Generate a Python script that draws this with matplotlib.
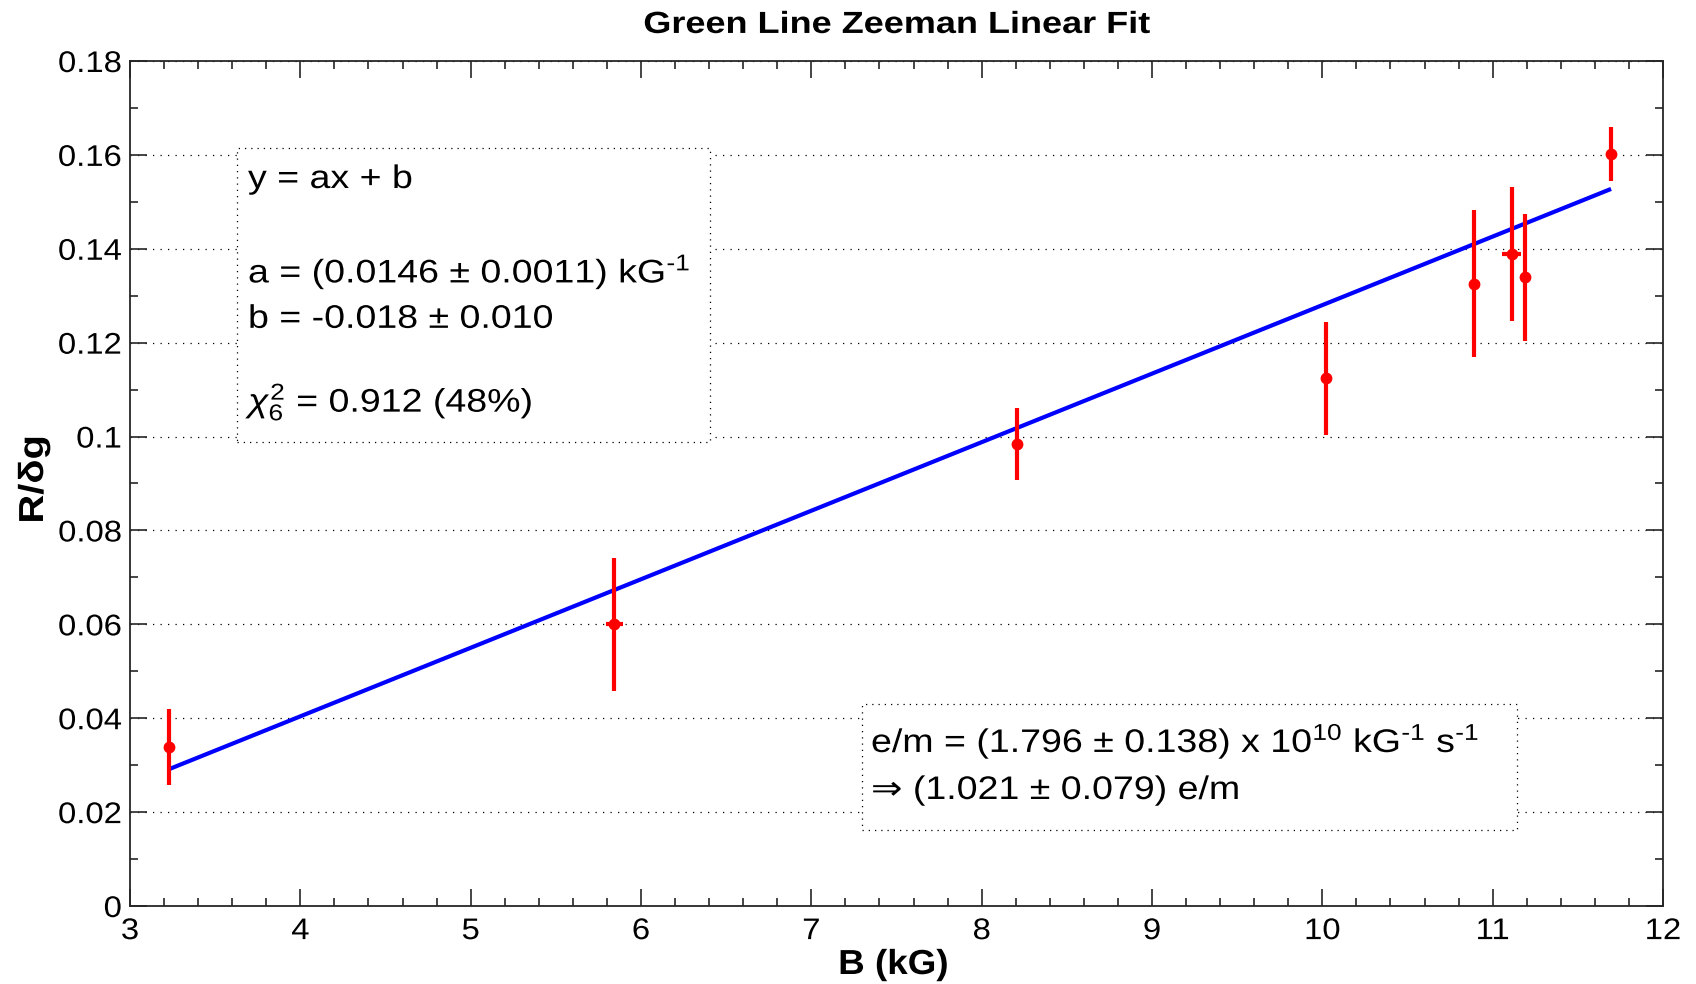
import matplotlib
matplotlib.use("Agg")
import matplotlib.pyplot as plt
from matplotlib.patches import Rectangle
from matplotlib.patheffects import AbstractPathEffect
from matplotlib.ticker import FixedLocator, MultipleLocator
from matplotlib.transforms import Affine2D

# Measured Zeeman splitting data
B_kG = [3.23, 5.844, 8.207, 10.02, 10.893, 11.112, 11.192, 11.695]
B_err = [0.03, 0.05, 0.03, 0.03, 0.03, 0.055, 0.03, 0.03]
R_dg = [0.0339, 0.0600, 0.0984, 0.1124, 0.1326, 0.1389, 0.1339, 0.1602]
R_err = [0.0081, 0.0142, 0.0077, 0.0120, 0.0157, 0.0143, 0.0135, 0.0057]

# Linear fit parameters y = a x + b
fit_a = 0.0146
fit_b = -0.018

x_ticks = [3, 4, 5, 6, 7, 8, 9, 10, 11, 12]
x_ticklabels = ["3", "4", "5", "6", "7", "8", "9", "10", "11", "12"]
y_ticks = [0, 0.02, 0.04, 0.06, 0.08, 0.10, 0.12, 0.14, 0.16, 0.18]
y_ticklabels = ["0", "0.02", "0.04", "0.06", "0.08", "0.1", "0.12", "0.14", "0.16", "0.18"]

fit_lines = [
    "y = ax + b",
    r"a = (0.0146 $\pm$ 0.0011) kG$^{\text{-}1}$",
    r"b = -0.018 $\pm$ 0.010",
    r"$\chi^{2}_{6}$ = 0.912 (48%)",
]
em_lines = [
    r"e/m = (1.796 $\pm$ 0.138) x 10$^{10}$ kG$^{\text{-}1}$ s$^{\text{-}1}$",
    "\u21D2 (1.021 \u00B1 0.079) e/m",
]

plt.rcParams["font.family"] = ["Liberation Sans", "DejaVu Sans"]
plt.rcParams["mathtext.fontset"] = "custom"
plt.rcParams["mathtext.rm"] = "Liberation Sans"
plt.rcParams["mathtext.it"] = "Liberation Sans:italic"
plt.rcParams["mathtext.bf"] = "Liberation Sans:bold"


class Stretch(AbstractPathEffect):
    """Widen glyph outlines horizontally about the left edge, centre or right edge."""

    def __init__(self, sx, anchor="left"):
        super().__init__((0.0, 0.0))
        self.sx = sx
        self.anchor = anchor

    def draw_path(self, renderer, gc, tpath, affine, rgbFace=None):
        if self.anchor == "left":
            cx = 0.0
        else:
            ext = tpath.get_extents()
            cx = ext.x0 + (ext.width / 2 if self.anchor == "center" else ext.width)
        pre = Affine2D().translate(-cx, 0).scale(self.sx, 1.0).translate(cx, 0)
        renderer.draw_path(gc, tpath, pre + affine, rgbFace)


W, H = 1696, 984
fig = plt.figure(figsize=(W / 100, H / 100), dpi=100)
ax_l, ax_r, ax_t, ax_b = 130, 1663, 61, 906
ax = fig.add_axes([ax_l / W, 1 - ax_b / H, (ax_r - ax_l) / W, (ax_b - ax_t) / H])

# fitted line across the measured range
fx = [min(B_kG), max(B_kG)]
fy = [fit_a * x + fit_b for x in fx]
ax.plot(fx, fy, color="#0000ff", lw=3.0, zorder=3, solid_capstyle="butt")

ax.errorbar(B_kG, R_dg, yerr=R_err, xerr=B_err, fmt="o", color="#ff0000",
            ms=8.5, mew=0, elinewidth=3.0, capsize=0, zorder=4)

ax.set_xlim(3, 12)
ax.set_ylim(0, 0.18)
ax.xaxis.set_major_locator(FixedLocator(x_ticks))
ax.set_xticklabels(x_ticklabels)
ax.xaxis.set_minor_locator(MultipleLocator(0.2))
ax.yaxis.set_major_locator(FixedLocator(y_ticks))
ax.set_yticklabels(y_ticklabels)
ax.yaxis.set_minor_locator(MultipleLocator(0.01))

ax.set_axisbelow(True)
ax.yaxis.grid(True, which="major", linestyle=(0, (1, 5)), linewidth=0.9, color="black")

for s in ax.spines.values():
    s.set_linewidth(1.3)
    s.set_color("#262626")
ax.tick_params(which="both", direction="in", top=True, right=True,
               width=1.2, color="#262626", labelsize=21.5)
ax.tick_params(which="major", length=12)
ax.tick_params(which="minor", length=5.8)
ax.tick_params(axis="y", pad=6)
ax.tick_params(axis="x", pad=8)
for t in ax.get_xticklabels():
    t.set_path_effects([Stretch(1.1, "center")])
for t in ax.get_yticklabels():
    t.set_path_effects([Stretch(1.1, "right")])

title = ax.set_title("Green Line Zeeman Linear Fit", fontsize=22, fontweight="bold", pad=20.2)
title.set_path_effects([Stretch(1.18, "center")])

ax.set_xlabel("B (kG)", fontsize=25, fontweight="bold")
ax.xaxis.label.set_va("baseline")
ax.xaxis.set_label_coords(0.498, (ax_b - 974) / (ax_b - ax_t))
ax.xaxis.label.set_path_effects([Stretch(1.06, "center")])

ax.set_ylabel("R/\u03B4g", fontsize=25, fontweight="bold", rotation=90,
              rotation_mode="anchor", ha="center", va="baseline")
ax.yaxis.set_label_coords((43 - ax_l) / (ax_r - ax_l), 0.505)
ax.yaxis.label.set_path_effects([Stretch(1.15, "center")])


def px_to_ax(x, y):
    return (x - ax_l) / (ax_r - ax_l), (ax_b - y) / (ax_b - ax_t)


def add_box(x0, y0, x1, y1):
    (ax0, ay1) = px_to_ax(x0, y0)
    (ax1, ay0) = px_to_ax(x1, y1)
    ax.add_patch(Rectangle((ax0, ay0), ax1 - ax0, ay1 - ay0, transform=ax.transAxes,
                           facecolor="white", edgecolor="black",
                           linestyle=(0, (1, 4)), linewidth=0.9, zorder=2))


def add_lines(lines, x, baselines):
    for s, y in zip(lines, baselines):
        tx, ty = px_to_ax(x, y)
        ax.text(tx, ty, s, transform=ax.transAxes, fontsize=23.5, ha="left",
                va="baseline", zorder=5, path_effects=[Stretch(1.15, "left")])


# fit parameter box
add_box(237, 147.5, 710, 442)
add_lines(fit_lines, 248, [188, 282.7, 328, 411.7])

# charge-to-mass result box
add_box(862, 704, 1517, 830)
add_lines(em_lines, 871, [752, 799])

fig.savefig("out.png", dpi=100)
